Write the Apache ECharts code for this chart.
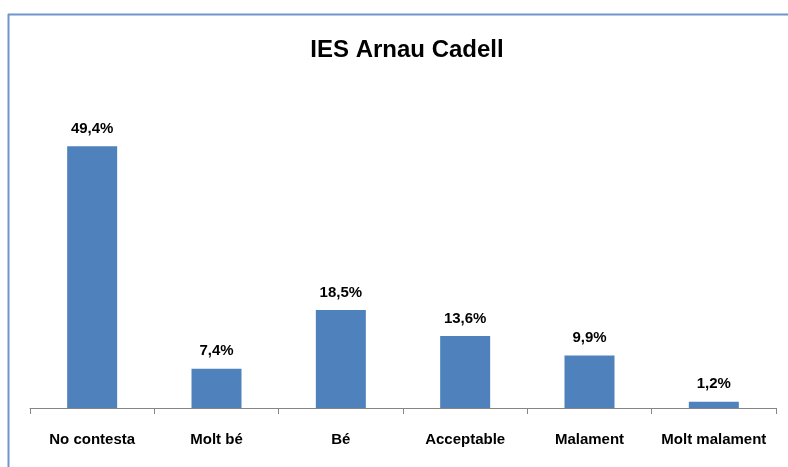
<!DOCTYPE html>
<html>
<head>
<meta charset="utf-8">
<script src="https://cdn.jsdelivr.net/npm/echarts@6/dist/echarts.min.js"></script>
<style>
  html, body { margin: 0; padding: 0; background: #fff; }
  #chart { width: 788px; height: 467px; }
</style>
</head>
<body>
<div id="chart"></div>
<script>
// dades del gràfic
const categories = ['No contesta', 'Molt bé', 'Bé', 'Acceptable', 'Malament', 'Molt malament'];
const values = [49.4, 7.4, 18.5, 13.6, 9.9, 1.2];

const chart = echarts.init(document.getElementById('chart'));

const option = {
    animation: false,
    title: {
        text: 'IES Arnau Cadell',
        left: 402,
        textAlign: 'center',
        top: 33,
        textStyle: {
            fontFamily: 'Liberation Sans',
            fontSize: 24,
            fontWeight: 'bold',
            color: '#000'
        }
    },
    graphic: [
        {
            type: 'line',
            shape: {x1: 8, y1: 14.5, x2: 788, y2: 14.5},
            style: {stroke: '#6f96cc', lineWidth: 2}
        },
        {
            type: 'line',
            shape: {x1: 8.5, y1: 14, x2: 8.5, y2: 467},
            style: {stroke: '#6f96cc', lineWidth: 2}
        }
    ],
    grid: {
        left: 30,
        right: 12,
        top: 90,
        bottom: 59,
        containLabel: false
    },
    xAxis: {
        type: 'category',
        data: categories,
        axisLine: {lineStyle: {color: '#868686', width: 1}},
        axisTick: {show: true, length: 6, lineStyle: {color: '#868686'}},
        axisLabel: {
            margin: 24,
            interval: 0,
            fontFamily: 'Liberation Sans',
            fontSize: 15,
            fontWeight: 'bold',
            color: '#000'
        }
    },
    yAxis: {
        type: 'value',
        min: 0,
        max: 60,
        show: false
    },
    series: [
        {
            type: 'bar',
            data: values,
            barWidth: 50,
            itemStyle: {color: '#4f81bd'},
            label: {
                show: true,
                position: 'top',
                distance: 10,
                fontFamily: 'Liberation Sans',
                fontSize: 15,
                fontWeight: 'bold',
                color: '#000',
                formatter: p => p.value.toFixed(1).replace('.', ',') + '%'
            }
        }
    ]
};

chart.setOption(option);
</script>
</body>
</html>
